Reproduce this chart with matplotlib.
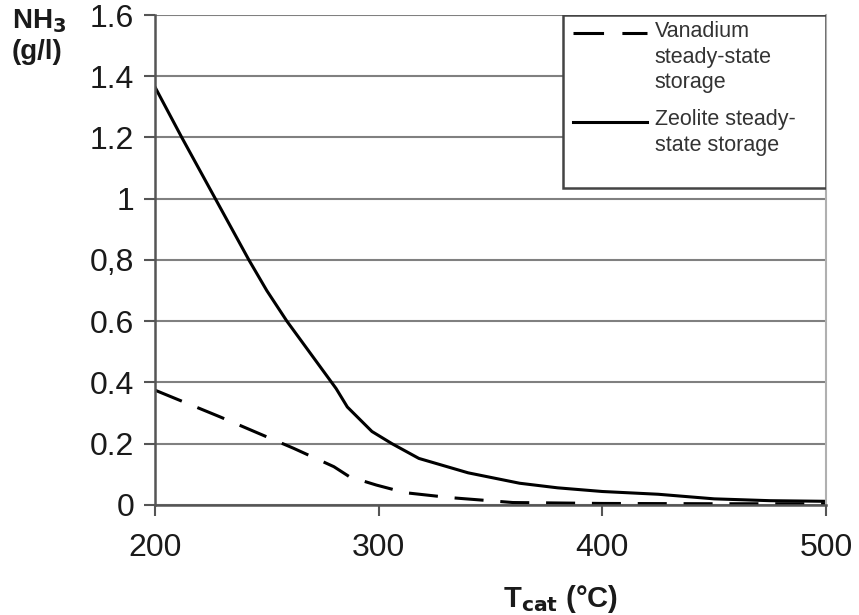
import matplotlib
matplotlib.use("Agg")
import matplotlib.pyplot as plt
from matplotlib.lines import Line2D
from matplotlib.patches import Rectangle

plt.rcParams['font.family'] = ['Liberation Sans', 'DejaVu Sans']

# data
t_zeolite = [200, 212, 227, 242, 250, 259, 270, 281, 286, 297, 306, 318, 340, 363, 380, 400, 425, 450, 475, 500]
zeolite = [1.365, 1.2, 1.0, 0.8, 0.7, 0.6, 0.49, 0.38, 0.32, 0.24, 0.2, 0.152, 0.105, 0.071, 0.056, 0.044, 0.035, 0.02, 0.014, 0.012]

t_vanadium = [200, 229, 262, 280, 287, 299, 312, 332, 360, 400, 450, 500]
vanadium = [0.375, 0.288, 0.185, 0.125, 0.092, 0.065, 0.04, 0.024, 0.008, 0.005, 0.004, 0.004]

y_ticks = [0, 0.2, 0.4, 0.6, 0.8, 1.0, 1.2, 1.4, 1.6]
y_tick_labels = ["0", "0.2", "0.4", "0.6", "0,8", "1", "1.2", "1.4", "1.6"]
x_ticks = [200, 300, 400, 500]
legend_labels = ["Vanadium\nsteady-state\nstorage", "Zeolite steady-\nstate storage"]

fig = plt.figure(figsize=(8.59, 6.15), dpi=100)
ax = fig.add_axes([0.1804, 0.1789, 0.7812, 0.7967])

ax.plot(t_vanadium, vanadium, color="black", lw=2.2, dashes=(9.5, 5.5))
ax.plot(t_zeolite, zeolite, color="black", lw=2.2)

ax.set_xlim(200, 500)
ax.set_ylim(0, 1.6)
ax.set_yticks(y_ticks)
ax.set_yticklabels(y_tick_labels)
ax.set_xticks(x_ticks)

ax.grid(axis="y", color="#808080", lw=1.5)
ax.set_axisbelow(True)
ax.spines["top"].set_visible(False)
ax.spines["left"].set_color("#555555")
ax.spines["left"].set_linewidth(1.8)
ax.spines["bottom"].set_color("#555555")
ax.spines["bottom"].set_linewidth(1.8)
ax.spines["right"].set_color("#b0b0b0")
ax.spines["right"].set_linewidth(1.5)

ax.tick_params(axis="y", length=8, width=1.5, color="#555555", pad=7,
               labelsize=23, labelcolor="#1a1a1a")
ax.tick_params(axis="x", length=8, width=1.5, color="#555555", pad=12,
               labelsize=23, labelcolor="#1a1a1a")

# axis titles
fig.text(0.014, 0.988, "NH$_\\mathbf{3}$\n(g/l)", ha="left", va="top",
         fontsize=20, fontweight="bold", color="#1a1a1a", linespacing=1.2)
ax.set_xlabel("T$_\\mathbf{cat}$ (°C)", fontsize=21, fontweight="bold",
              color="#1a1a1a")
ax.xaxis.set_label_coords(0.605, -0.16)

# legend box drawn by hand
box = Rectangle((0.608, 0.647), 0.392, 0.353, transform=ax.transAxes,
                facecolor="white", edgecolor="#444444", lw=1.8, zorder=5)
ax.add_patch(box)
ax.add_line(Line2D([0.623, 0.733], [0.963, 0.963], transform=ax.transAxes,
                   color="black", lw=2.2, dashes=(10, 6), zorder=6))
ax.add_line(Line2D([0.623, 0.733], [0.782, 0.782], transform=ax.transAxes,
                   color="black", lw=2.2, zorder=6))
ax.text(0.745, 0.988, legend_labels[0], transform=ax.transAxes, ha="left", va="top",
        fontsize=15.5, color="#333333", linespacing=1.3, zorder=7)
ax.text(0.745, 0.808, legend_labels[1], transform=ax.transAxes, ha="left", va="top",
        fontsize=15.5, color="#333333", linespacing=1.3, zorder=7)

fig.savefig("out.png", dpi=100)
